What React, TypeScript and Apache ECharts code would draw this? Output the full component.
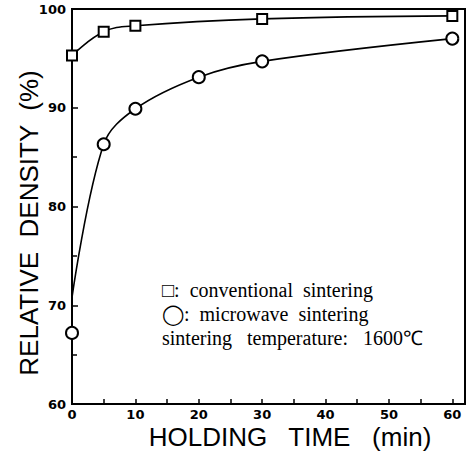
import React, { useEffect, useRef } from "react";
import * as echarts from "echarts";

const convTimes = [0, 5, 10, 30, 60];
const convDensity = [95.3, 97.7, 98.3, 99.0, 99.3];

const microTimes = [0, 5, 10, 20, 30, 60];
const microDensity = [67.2, 86.3, 89.9, 93.1, 94.7, 97.0];
// fitted curve drawn through the microwave points (starts above the t=0 point)
const microCurveDensity = [70.8, 86.3, 89.9, 93.1, 94.7, 97.0];

const xTickValues = [0, 5, 10, 15, 20, 25, 30, 35, 40, 45, 50, 55, 60];
const xLabelValues = [0, 10, 20, 30, 40, 50, 60];

const legendLines = [
  "□:  conventional  sintering",
  "◯:  microwave  sintering",
  "sintering   temperature:   1600℃",
];

export default function App() {
  const ref = useRef<HTMLDivElement>(null);
  useEffect(() => {
    if (!ref.current) return;
    const chart = echarts.init(ref.current, null, { renderer: "svg" });
    const conv = convTimes.map((t, i) => [t, convDensity[i]]);
    const micro = microTimes.map((t, i) => [t, microDensity[i]]);
    const microCurve = microTimes.map((t, i) => [t, microCurveDensity[i]]);
    const labelFont = {
      fontFamily: "DejaVu Sans",
      fontWeight: "bold" as const,
      fontSize: 13,
      color: "#000",
    };
    chart.setOption({
      animation: false,
      backgroundColor: "#fff",
      grid: {
        left: 72,
        right: 8,
        top: 9,
        bottom: 47,
        show: true,
        borderColor: "#000",
        borderWidth: 2,
        backgroundColor: "transparent",
      },
      xAxis: {
        type: "value",
        min: 0,
        max: 62,
        interval: 10,
        axisLine: { show: true, onZero: false, lineStyle: { color: "#000", width: 2 } },
        axisTick: {
          show: true,
          inside: true,
          length: 5,
          customValues: xTickValues,
          lineStyle: { color: "#000", width: 1.5 },
        },
        axisLabel: {
          ...labelFont,
          margin: 4,
          customValues: xLabelValues,
        },
        splitLine: { show: false },
      },
      yAxis: {
        type: "value",
        min: 60,
        max: 100,
        interval: 10,
        axisLine: { show: true, lineStyle: { color: "#000", width: 2 } },
        axisTick: { show: true, inside: true, length: 6, lineStyle: { color: "#000", width: 1.5 } },
        minorTick: { show: true, splitNumber: 2, length: 5, lineStyle: { color: "#000", width: 1.5 } },
        axisLabel: { ...labelFont, margin: 6 },
        splitLine: { show: false },
      },
      series: [
        {
          name: "conventional sintering",
          type: "line",
          data: conv,
          smooth: 0.4,
          symbol: "rect",
          symbolSize: 10,
          lineStyle: { color: "#000", width: 1.6 },
          itemStyle: { color: "#fff", borderColor: "#000", borderWidth: 2 },
          z: 3,
        },
        {
          name: "microwave sintering curve",
          type: "line",
          data: microCurve,
          smooth: 0.35,
          showSymbol: false,
          symbol: "none",
          lineStyle: { color: "#000", width: 1.6 },
          z: 2,
        },
        {
          name: "microwave sintering",
          type: "scatter",
          data: micro,
          symbol: "circle",
          symbolSize: 12,
          itemStyle: { color: "#fff", borderColor: "#000", borderWidth: 2, opacity: 1 },
          z: 4,
        },
      ],
      graphic: [
        {
          type: "text",
          x: 29,
          y: 223,
          rotation: Math.PI / 2,
          style: {
            text: "RELATIVE  DENSITY  (%)",
            fontFamily: "Liberation Sans",
            fontSize: 26,
            fill: "#000",
            align: "center",
            verticalAlign: "middle",
          },
        },
        {
          type: "text",
          x: 290,
          y: 424,
          style: {
            text: "HOLDING   TIME   (min)",
            fontFamily: "Liberation Sans",
            fontSize: 26,
            fill: "#000",
            align: "center",
            verticalAlign: "top",
          },
        },
        ...legendLines.map((t, i) => ({
          type: "text",
          x: 162,
          y: 290 + i * 24,
          style: {
            text: t,
            fontFamily: "Liberation Serif",
            fontSize: 20,
            fill: "#000",
            align: "left",
            verticalAlign: "middle",
          },
        })),
      ],
    });
    return () => chart.dispose();
  }, []);
  return (
    <div
      ref={ref}
      style={{ position: "fixed", left: 0, top: 0, width: 473, height: 451 }}
    />
  );
}
